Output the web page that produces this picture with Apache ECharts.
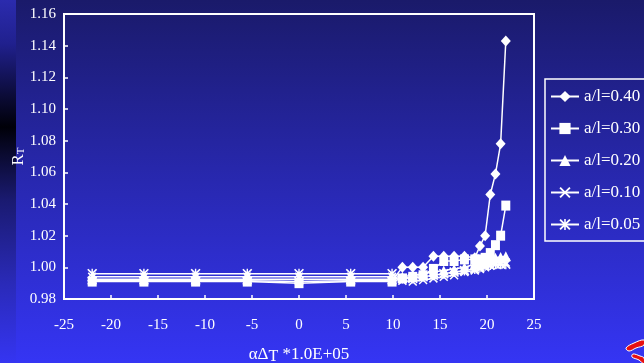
<!DOCTYPE html>
<html>
<head>
<meta charset="utf-8">
<script src="https://cdn.jsdelivr.net/npm/echarts@6/dist/echarts.min.js"></script>
<style>
  html, body { margin: 0; padding: 0; width: 644px; height: 363px; overflow: hidden; background: #2323a8; }
  #chart { width: 644px; height: 363px; }
</style>
</head>
<body>
<div id="chart"></div>
<script>
// Temperature parameter αΔT (×1.0E+05) at which R_T was evaluated
const xValues = [-22, -16.5, -11, -5.5, 0, 5.5, 9.9, 11, 12.1, 13.2, 14.3, 15.4, 16.5, 17.6, 18.7, 19.25, 19.8, 20.35, 20.9, 21.45, 22];

// R_T for each crack ratio a/l
const rt040 = [0.9915, 0.9915, 0.9915, 0.9915, 0.991, 0.9915, 0.9915, 1.000, 1.000, 1.000, 1.007, 1.007, 1.007, 1.007, 1.006, 1.0135, 1.020, 1.046, 1.059, 1.078, 1.143];
const rt030 = [0.991, 0.991, 0.991, 0.991, 0.990, 0.991, 0.991, 0.993, 0.994, 0.995, 0.999, 1.004, 1.004, 1.005, 1.005, 1.005, 1.006, 1.009, 1.014, 1.020, 1.039];
const rt020 = [0.9925, 0.9925, 0.9925, 0.9925, 0.9925, 0.9925, 0.9925, 0.994, 0.995, 0.996, 0.997, 0.998, 0.999, 1.000, 1.002, 1.003, 1.004, 1.005, 1.006, 1.0065, 1.007];
const rt010 = [0.994, 0.994, 0.994, 0.994, 0.994, 0.994, 0.994, 0.9915, 0.991, 0.992, 0.993, 0.994, 0.995, 0.997, 0.998, 0.999, 1.000, 1.001, 1.002, 1.0025, 1.003];
const rt005 = [0.996, 0.996, 0.996, 0.996, 0.996, 0.996, 0.996, 0.993, 0.993, 0.994, 0.995, 0.996, 0.997, 0.998, 0.999, 1.000, 1.001, 1.0015, 1.002, 1.002, 1.002];

const seriesNames = ['a/l=0.40', 'a/l=0.30', 'a/l=0.20', 'a/l=0.10', 'a/l=0.05'];
const seriesData = [rt040, rt030, rt020, rt010, rt005];

// Axis ranges
const xMin = -25, xMax = 25, xStep = 5;
const yMin = 0.98, yMax = 1.16, yStep = 0.02;

const SERIF = "'Liberation Serif', 'Times New Roman', 'DejaVu Serif', serif";

// Marker shapes: diamond, square, triangle, cross, asterisk
const crossPath = 'path://M0,1.2 L1.2,0 L5,3.8 L8.8,0 L10,1.2 L6.2,5 L10,8.8 L8.8,10 L5,6.2 L1.2,10 L0,8.8 L3.8,5 Z';
const starPath = 'path://M0,1.2 L1.2,0 L5,3.8 L8.8,0 L10,1.2 L6.2,5 L10,8.8 L8.8,10 L5,6.2 L1.2,10 L0,8.8 L3.8,5 Z M4.3,0 L5.7,0 L5.7,10 L4.3,10 Z';
const symbols = ['diamond', 'rect', 'triangle', crossPath, starPath];
const symbolSizes = [[10, 11], [9, 10], [10, 10], [9, 9], [10, 10]];

const chart = echarts.init(document.getElementById('chart'), null, { renderer: 'canvas' });

const series = seriesNames.map((name, i) => ({
  name: name,
  type: 'line',
  data: xValues.map((x, k) => [x, seriesData[i][k]]),
  symbol: symbols[i],
  symbolSize: symbolSizes[i],
  showAllSymbol: true,
  lineStyle: { color: '#ffffff', width: 1.5 },
  itemStyle: { color: '#ffffff', borderWidth: 0 },
  emphasis: { disabled: true },
  z: 10 - i
}));

chart.setOption({
  animation: false,
  backgroundColor: new echarts.graphic.LinearGradient(0, 0, 0, 1, [
    { offset: 0, color: '#1a1a6a' },
    { offset: 0.5, color: '#2828b0' },
    { offset: 1, color: '#3535f4' }
  ]),
  graphic: [
    {
      // slide edge stripe
      type: 'rect', left: 0, top: 0, z: -10,
      shape: { width: 16, height: 363 },
      style: {
        fill: new echarts.graphic.LinearGradient(0, 0, 0, 1, [
          { offset: 0, color: '#2b2bae' },
          { offset: 0.12, color: '#20208e' },
          { offset: 0.26, color: '#0c0c3a' },
          { offset: 0.35, color: '#000008' },
          { offset: 0.39, color: '#06061e' },
          { offset: 0.55, color: '#1a1a70' },
          { offset: 0.78, color: '#2a2ab8' },
          { offset: 1, color: '#3535f2' }
        ])
      }
    },
    {
      type: 'polygon', z: 5,
      shape: { points: [[626, 348], [634, 343], [644, 340], [644, 345], [636, 348], [629, 351]], smooth: 0.4 },
      style: { fill: '#e81010', stroke: '#ffffff', lineWidth: 1 }
    },
    {
      type: 'polygon', z: 5,
      shape: { points: [[633, 354], [640, 356], [644, 358], [644, 364], [639, 360], [632, 357]], smooth: 0.4 },
      style: { fill: '#e81010', stroke: '#ffffff', lineWidth: 1 }
    }
  ],
  grid: {
    left: 64, top: 14, width: 470, height: 285,
    containLabel: false,
    outerBoundsMode: 'none',
    show: true, borderColor: '#ffffff', borderWidth: 2, backgroundColor: 'transparent'
  },
  legend: {
    orient: 'vertical',
    left: 545, top: 79,
    padding: [7, 30, 6, 5],
    itemGap: 11,
    itemWidth: 28,
    itemHeight: 14,
    borderColor: '#ffffff',
    borderWidth: 1.5,
    selectedMode: false,
    textStyle: { color: '#ffffff', fontFamily: SERIF, fontSize: 17, lineHeight: 17, padding: [4, 0, 0, 0] },
    data: seriesNames
  },
  xAxis: {
    type: 'value',
    min: xMin, max: xMax, interval: xStep,
    name: '{a|αΔ}{s|T}{a| *1.0E+05}',
    nameLocation: 'middle',
    nameGap: 46,
    nameMoveOverlap: false,
    nameTextStyle: {
      rich: {
        a: { color: '#ffffff', fontFamily: SERIF, fontSize: 17 },
        s: { color: '#ffffff', fontFamily: SERIF, fontSize: 16, padding: [4, 0, 0, 0] }
      }
    },
    axisLine: { show: false, onZero: false },
    axisTick: { show: true, inside: true, length: 4, lineStyle: { color: '#ffffff', width: 1.5 } },
    splitLine: { show: false },
    axisLabel: { color: '#ffffff', fontFamily: SERIF, fontSize: 15, margin: 19 }
  },
  yAxis: {
    type: 'value',
    min: yMin, max: yMax, interval: yStep,
    name: '{a|R}{s|T}',
    nameLocation: 'middle',
    nameRotate: 90,
    nameGap: 37,
    nameMoveOverlap: false,
    nameTextStyle: {
      rich: {
        a: { color: '#ffffff', fontFamily: SERIF, fontSize: 17 },
        s: { color: '#ffffff', fontFamily: SERIF, fontSize: 11, padding: [6, 0, 0, 0] }
      }
    },
    axisLine: { show: false, onZero: false },
    axisTick: { show: true, inside: true, length: 4, lineStyle: { color: '#ffffff', width: 1.5 } },
    splitLine: { show: false },
    axisLabel: { color: '#ffffff', fontFamily: SERIF, fontSize: 15, margin: 8, formatter: v => v.toFixed(2) }
  },
  series: series
});
</script>
</body>
</html>
